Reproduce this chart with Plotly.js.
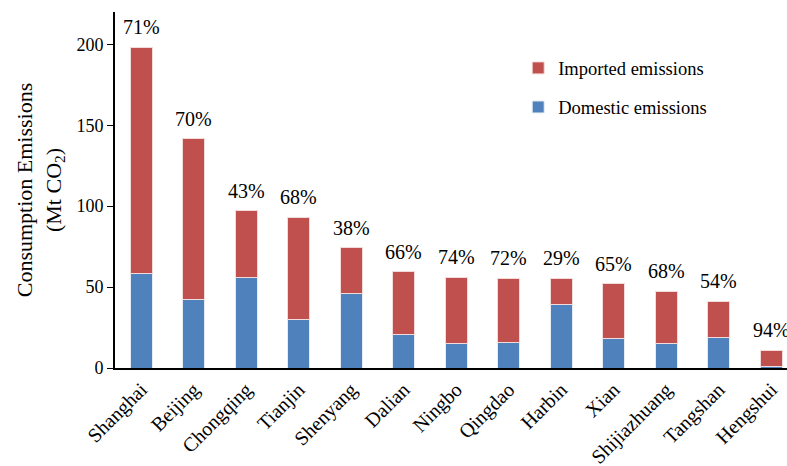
<!DOCTYPE html>
<html><head><meta charset="utf-8">
<script src="https://cdn.plot.ly/plotly-3.0.1.min.js"></script>
<style>html,body{margin:0;padding:0;background:#fff}#chart{width:787px;height:466px}</style>
</head><body><div id="chart"></div>
<script>
const cities = ["Shanghai","Beijing","Chongqing","Tianjin","Shenyang","Dalian","Ningbo","Qingdao","Harbin","Xian","Shijiazhuang","Tangshan","Hengshui"];
const domestic = [58.4, 42.3, 55.7, 29.9, 46.2, 20.6, 15.1, 15.7, 39.2, 18.2, 15.3, 19.0, 0.7];
const imported = [139.9, 99.3, 41.6, 63.3, 28.0, 38.8, 41.0, 39.8, 16.3, 33.8, 32.1, 22.1, 10.4];
const importedShare = ["71%","70%","43%","68%","38%","66%","74%","72%","29%","65%","68%","54%","94%"];
const yTicks = [0, 50, 100, 150, 200];

const font = "Liberation Serif";
const traces = [
  {type:"bar", name:"Domestic emissions", x:cities, y:domestic, legendgroup:"d", legendrank:2,
   marker:{color:"#4F81BD", line:{color:"#E6ECF5", width:1}}, width:0.41, hoverinfo:"skip"},
  {type:"bar", name:"Imported emissions", x:cities, y:imported, legendgroup:"i", legendrank:1,
   marker:{color:"#C0504D", line:{color:"#F2DCDB", width:1}}, width:0.41, hoverinfo:"skip"}
];
const annotations = cities.map((c,i)=>({
  x:c, y:domestic[i]+imported[i], text:importedShare[i], showarrow:false,
  yanchor:"bottom", yshift:7, font:{family:font, size:20, color:"#000"}
}));
const layout = {
  width:787, height:466, barmode:"stack", bargap:0.59,
  paper_bgcolor:"#fff", plot_bgcolor:"#fff",
  margin:{l:115, r:0, t:12, b:98},
  font:{family:font, size:18, color:"#000"},
  showlegend:true,
  legend:{x:0.6, y:0.895, xanchor:"left", yanchor:"top", traceorder:"grouped",
          tracegroupgap:12, itemwidth:30, font:{family:font, size:18.5, color:"#000"}, bgcolor:"rgba(0,0,0,0)"},
  xaxis:{type:"category", range:[-0.5, 12.3], tickangle:-45, showline:true, linecolor:"#000",
         linewidth:2, ticks:"", showgrid:false, zeroline:false, tickfont:{family:font, size:20}},
  yaxis:{range:[0,220], tickvals:yTicks, ticktext:yTicks.map(String), showline:true, linecolor:"#000",
         linewidth:2, ticks:"outside", ticklen:6, tickcolor:"#000", showgrid:false, zeroline:false,
         tickfont:{family:font, size:18},
         title:{text:"Consumption Emissions<br>(Mt CO<sub>2</sub>)", font:{family:font, size:22}, standoff:9}},
  annotations:annotations
};
Plotly.newPlot("chart", traces, layout, {staticPlot:true, displayModeBar:false});
</script></body></html>
